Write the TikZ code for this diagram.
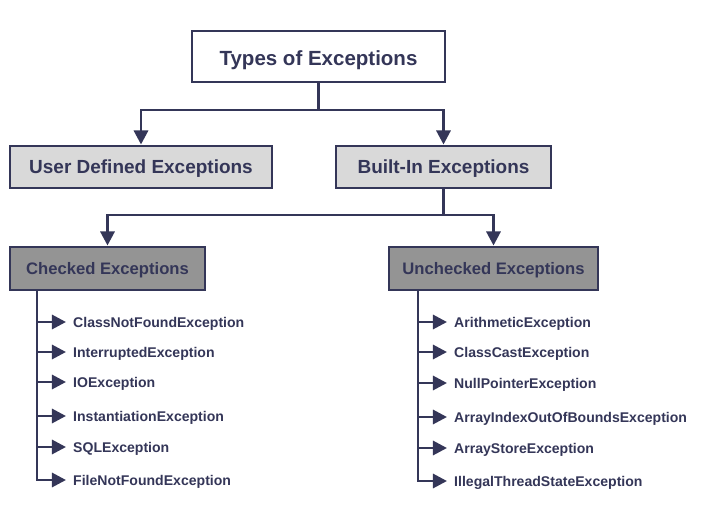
\documentclass[tikz,border=0pt]{standalone}
\usepackage{fontspec}
\setmainfont{Liberation Sans}
\usetikzlibrary{arrows.meta,positioning}
\definecolor{navy}{RGB}{52,54,88}
\definecolor{lgray}{RGB}{217,217,217}
\definecolor{dgray}{RGB}{148,148,148}
\tikzset{
  box/.style={draw=navy,line width=2.5pt,align=center,text=navy,text depth=0pt,inner sep=0pt},
  top/.style={box,fill=white,minimum width=7.59cm,minimum height=1.53cm,text height=16pt,font=\fontsize{17.5}{20}\selectfont\bfseries},
  kind/.style={box,fill=lgray,minimum height=1.26cm,text height=11.6pt,font=\fontsize{16.2}{19}\selectfont\bfseries},
  sub/.style={box,fill=dgray,minimum height=1.29cm,text height=10.2pt,font=\fontsize{14.2}{17}\selectfont\bfseries},
  item/.style={anchor=west,text=navy,font=\fontsize{12}{14}\selectfont\bfseries,inner xsep=0.21cm,inner ysep=0pt,text height=8.6pt,text depth=0pt},
  ln/.style={draw=navy,line width=2.5pt},
  arr/.style={ln,-{Triangle[length=12pt,width=12pt]}}
}
\begin{document}
\begin{tikzpicture}[x=0.03cm,y=-0.03cm]
\fill[white] (0,0) rectangle (704,511);
\useasboundingbox (0,0) rectangle (704,511);
% upper levels
\node[top] (types) at (318.5,56.5) {Types of Exceptions};
\node[kind,minimum width=7.86cm] (user) at (141,167) {User Defined Exceptions};
\node[kind,minimum width=6.45cm] (built) at (443.5,167) {Built-In Exceptions};
\node[sub,minimum width=5.85cm] (checked) at (107.5,268.5) {Checked Exceptions};
\node[sub,minimum width=6.27cm] (unchecked) at (493.5,268.5) {Unchecked Exceptions};
\coordinate (j1) at (318.5,110);
\coordinate (j2) at (443.5,215);
\draw[ln] (types.south) -- (j1);
\draw[arr] (j1) -| (user.north);
\draw[arr] (j1) -| (built.north);
\draw[ln] (built.south) -- (j2);
\draw[arr] (j2) -| (checked.north);
\draw[arr] (j2) -| (unchecked.north);
% leaves
\coordinate (ck) at (37,290);
\coordinate (uk) at (418,290);
\foreach \i/\y/\t in {1/322/ClassNotFoundException,2/352/InterruptedException,3/382/IOException,
  4/416/InstantiationException,5/447/SQLException,6/480/FileNotFoundException}{
  \node[item] (c\i) at (66,\y) {\t};
}
\foreach \i/\y/\t in {1/322/ArithmeticException,2/352/ClassCastException,3/383/NullPointerException,
  4/417/ArrayIndexOutOfBoundsException,5/448/ArrayStoreException,6/481/IllegalThreadStateException}{
  \node[item] (u\i) at (447,\y) {\t};
}
\draw[arr] (ck) |- (c6.west);
\draw[arr] (uk) |- (u6.west);
\foreach \i in {1,...,5}{
  \draw[arr] (ck |- c\i.west) -- (c\i.west);
  \draw[arr] (uk |- u\i.west) -- (u\i.west);
}
\end{tikzpicture}
\end{document}
